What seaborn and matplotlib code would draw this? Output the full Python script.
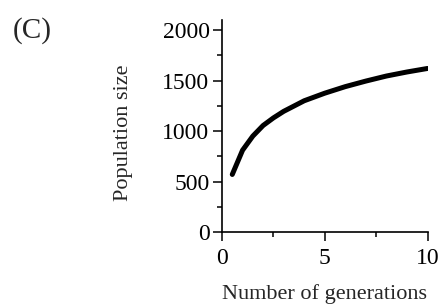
import numpy as np
import pandas as pd
import seaborn as sns
from matplotlib import pyplot as plt
from matplotlib.ticker import MultipleLocator

# values
generations = [0.5, 1, 1.5, 2, 2.5, 3, 4, 5, 6, 7, 8, 9, 10]
population = [570, 810, 950, 1055, 1130, 1195, 1300, 1375, 1440, 1495, 1545, 1585, 1620]

df = pd.DataFrame({'gen': generations, 'pop': population})

sns.set_style('ticks')
plt.rcParams['font.family'] = ['Liberation Serif', 'DejaVu Serif']
plt.rcParams['mathtext.fontset'] = 'stix'

fig = plt.figure(figsize=(4.4, 3.05), dpi=100)
ax = fig.add_axes([222 / 440, 1 - 232 / 305, 205.5 / 440, 212 / 305])

sns.lineplot(data=df, x='gen', y='pop', ax=ax, color='black', linewidth=3.6,
             solid_capstyle='round')

ax.set_xlim(0, 10)
ax.set_ylim(0, 2100)
ax.xaxis.set_major_locator(MultipleLocator(5))
ax.xaxis.set_minor_locator(MultipleLocator(2.5))
ax.yaxis.set_major_locator(MultipleLocator(500))
ax.yaxis.set_minor_locator(MultipleLocator(250))
ax.tick_params(which='major', direction='out', length=6.5, width=1.1,
               labelsize=17, color='black', labelcolor='black')
ax.tick_params(axis='x', which='major', pad=5)
ax.tick_params(axis='y', which='major', pad=2.5)
ax.tick_params(which='minor', direction='out', length=3.8, width=1.1, color='black')
for s in ['left', 'bottom']:
    ax.spines[s].set_linewidth(1.2)
    ax.spines[s].set_color('black')
sns.despine(ax=ax)

ax.set_xlabel('Number of generations', fontsize=16)
ax.set_ylabel('Population size', fontsize=16)
ax.xaxis.set_label_coords(0.501, -0.245)
ax.yaxis.set_label_coords(-0.433, 0.467)

fig.text(32 / 440, 1 - 31 / 305, '(C)', fontsize=21, ha='center', va='center')

fig.savefig('out.png', dpi=100)
